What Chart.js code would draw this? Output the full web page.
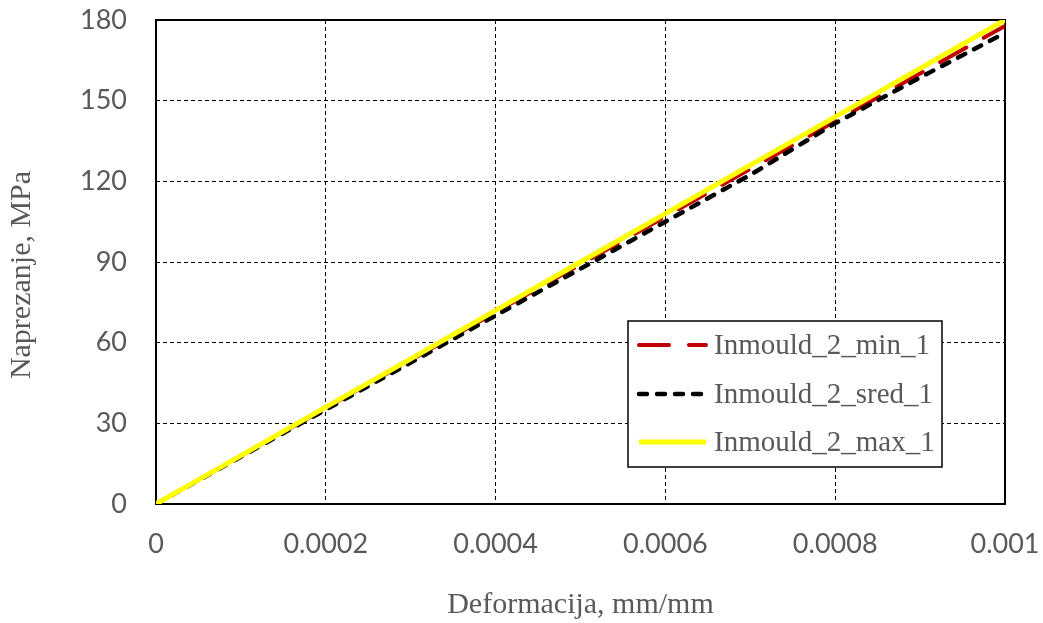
<!DOCTYPE html>
<html>
<head>
<meta charset="utf-8">
<script src="https://cdn.jsdelivr.net/npm/chart.js@4/dist/chart.umd.min.js"></script>
<style>
  html, body { margin: 0; padding: 0; background: #fff; }
  #wrap { width: 1043px; height: 623px; }
</style>
</head>
<body>
<div id="wrap"><canvas id="stressChart" width="1043" height="623"></canvas></div>
<script>
// strain values (mm/mm)
const strain = [0, 0.0001, 0.0002, 0.0003, 0.0004, 0.0005, 0.0006, 0.0007, 0.0008, 0.0009, 0.001];

// stress values, MPa
const stressMin = [0, 17.9, 35.7, 53.5, 71.3, 89.1, 106.9, 124.6, 142.3, 160.1, 177.8];
const stressSred = [0, 17.6, 35.1, 52.6, 70.1, 87.5, 105.0, 122.4, 141.6, 158.6, 175.2];
const stressMax = [0, 18, 36, 54, 72, 90, 108, 126, 144, 162, 180];

const seriesNames = ["Inmould_2_min_1", "Inmould_2_sred_1", "Inmould_2_max_1"];
const xTickLabels = ["0", "0.0002", "0.0004", "0.0006", "0.0008", "0.001"];
const yTickLabels = ["0", "30", "60", "90", "120", "150", "180"];

const xTitle = "Deformacija, mm/mm";
const yTitle = "Naprezanje, MPa";

const textGrey = "#595959";

function toPoints(ys) {
  return strain.map((x, i) => ({ x: x, y: ys[i] }));
}

// no extra room for overflowing tick labels, layout padding decides
function noOverflow(scale) {
  scale.paddingTop = 0;
  scale.paddingBottom = 0;
  scale.paddingLeft = 0;
  scale.paddingRight = 0;
}

// frame around the plot area + y title
const framePlugin = {
  id: "frame",
  beforeDatasetsDraw(chart) {
    const a = chart.chartArea;
    const ctx = chart.ctx;
    ctx.save();
    ctx.strokeStyle = "#000";
    ctx.lineWidth = 2;
    ctx.strokeRect(a.left, a.top, a.right - a.left, a.bottom - a.top);
    ctx.restore();
  },
  afterDraw(chart) {
    const ctx = chart.ctx;
    ctx.save();
    ctx.translate(22, 275);
    ctx.rotate(-Math.PI / 2);
    ctx.font = "30px 'Liberation Serif'";
    ctx.fillStyle = textGrey;
    ctx.textAlign = "center";
    ctx.textBaseline = "middle";
    ctx.fillText(yTitle, 0, 0);
    ctx.restore();
  }
};

// legend box inside the plot
const boxLegend = {
  id: "boxLegend",
  afterDraw(chart) {
    const ctx = chart.ctx;
    const bx = 628, by = 321, bw = 314, bh = 146;
    ctx.save();
    ctx.fillStyle = "#fff";
    ctx.fillRect(bx, by, bw, bh);
    ctx.strokeStyle = "#000";
    ctx.lineWidth = 1.5;
    ctx.strokeRect(bx, by, bw, bh);

    const rows = [345, 394, 442];
    chart.data.datasets.forEach((ds, i) => {
      const y = rows[i];
      ctx.beginPath();
      ctx.strokeStyle = ds.borderColor;
      ctx.lineWidth = ds.borderWidth;
      ctx.lineCap = ds.borderCapStyle || "butt";
      ctx.setLineDash(ds.borderDash || []);
      ctx.moveTo(639, y);
      ctx.lineTo(706, y);
      ctx.stroke();
      ctx.setLineDash([]);
      ctx.font = "29px 'Liberation Serif'";
      ctx.fillStyle = textGrey;
      ctx.textAlign = "left";
      ctx.textBaseline = "middle";
      ctx.fillText(ds.label, 714, y + 1);
    });
    ctx.restore();
  }
};

const ctx = document.getElementById("stressChart").getContext("2d");

new Chart(ctx, {
  type: "line",
  data: {
    datasets: [
      {
        label: seriesNames[0],
        data: toPoints(stressMin),
        borderColor: "#C00000",
        borderWidth: 4,
        borderDash: [30, 20],
        borderCapStyle: "round",
        pointRadius: 0,
        order: 3
      },
      {
        label: seriesNames[1],
        data: toPoints(stressSred),
        borderColor: "#000000",
        borderWidth: 4.5,
        borderDash: [8, 10],
        borderCapStyle: "round",
        pointRadius: 0,
        order: 2
      },
      {
        label: seriesNames[2],
        data: toPoints(stressMax),
        borderColor: "#FFFF00",
        borderWidth: 5,
        pointRadius: 0,
        order: 1
      }
    ]
  },
  options: {
    responsive: false,
    animation: false,
    layout: { padding: { top: 20, right: 38, left: 0, bottom: 0 } },
    plugins: {
      legend: { display: false },
      tooltip: { enabled: false }
    },
    scales: {
      x: {
        type: "linear",
        min: 0,
        max: 0.001,
        afterFit(scale) { scale.height = 119; noOverflow(scale); },
        afterBuildTicks(scale) {
          scale.ticks = xTickLabels.map(t => ({ value: parseFloat(t) }));
        },
        ticks: {
          padding: 24,
          color: textGrey,
          font: { family: "Lato", size: 27 },
          maxRotation: 0,
          callback: (v, i) => xTickLabels[i]
        },
        grid: { color: "#000", lineWidth: 1, drawTicks: false },
        border: { display: false, dash: [4, 3] },
        title: {
          display: true,
          text: xTitle,
          color: textGrey,
          font: { family: "Liberation Serif", size: 30 },
          padding: 0
        }
      },
      y: {
        min: 0,
        max: 180,
        afterFit(scale) { scale.width = 156; noOverflow(scale); },
        afterBuildTicks(scale) {
          scale.ticks = yTickLabels.map(t => ({ value: parseFloat(t) }));
        },
        ticks: {
          padding: 29,
          color: textGrey,
          font: { family: "Lato", size: 27 },
          callback: (v, i) => yTickLabels[i]
        },
        grid: { color: "#000", lineWidth: 1, drawTicks: false },
        border: { display: false, dash: [4, 3] }
      }
    }
  },
  plugins: [framePlugin, boxLegend]
});
</script>
</body>
</html>
